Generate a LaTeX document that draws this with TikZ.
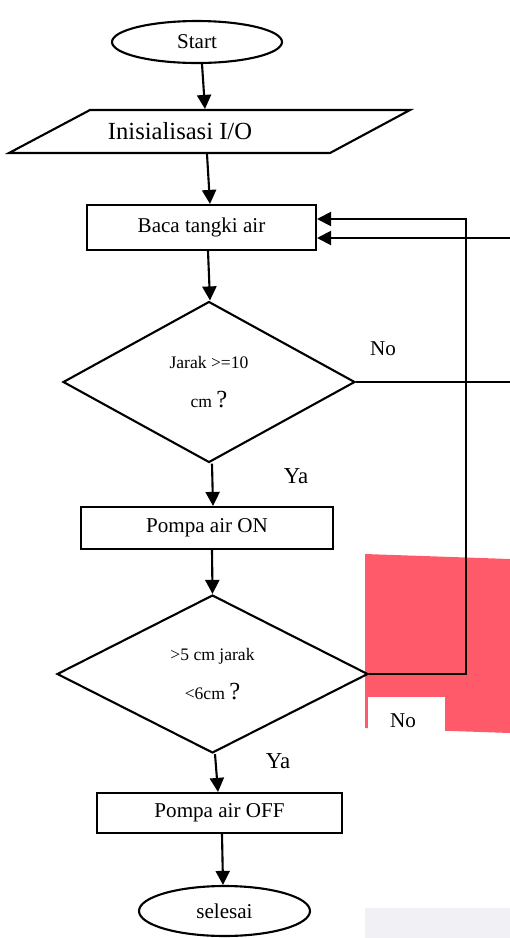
\documentclass[tikz,border=0pt]{standalone}
\usepackage{fontspec}
\setmainfont{Liberation Serif}
\usetikzlibrary{shapes.geometric,arrows.meta}

\definecolor{blokmerah}{RGB}{255,90,106}
\definecolor{blokabu}{RGB}{241,240,245}

\newcommand{\tanya}{{\fontsize{14}{14}\selectfont ?}}

\tikzset{
  flow/.style={-{Triangle[length=8pt,width=8pt]}},
  terminal/.style={draw,ellipse,inner sep=0pt,font=\fontsize{12}{14}\selectfont},
  data/.style={inner sep=0pt,font=\fontsize{14}{16}\selectfont},
  proses/.style={draw,rectangle,inner sep=0pt,font=\fontsize{12}{14}\selectfont},
  keputusan/.style={draw,diamond,aspect=1.8,inner sep=0pt,align=center,font=\fontsize{10}{12}\selectfont},
  jawab/.style={font=\fontsize{12}{14}\selectfont}
}

\begin{document}
\begin{tikzpicture}[x=0.02cm,y=-0.02cm,line width=1.2pt]
  \useasboundingbox (0,0) rectangle (510,938);

  \fill[blokmerah] (365,554) -- (510,559) -- (510,733) -- (365,728) -- cycle;
  \fill[white] (368,697) rectangle (445,732);
  \fill[blokabu] (365,908) rectangle (510,938);

  \draw (9,153) -- (90,110) -- (410,110) -- (330,153) -- cycle;

  \node[terminal,minimum width=3.4cm,minimum height=0.84cm] (start) at (197,42) {Start};
  \node[data,minimum height=0.86cm] (init) at (180,131.5) {Inisialisasi I/O};
  \node[proses,minimum width=4.58cm,minimum height=0.9cm] (baca) at (201.5,227.5) {Baca tangki air};
  \node[keputusan,minimum width=5.84cm,minimum height=3.22cm] (jarak) at (209,382) {Jarak >=10\\[10pt]cm \tanya};
  \node[proses,minimum width=5.04cm,minimum height=0.84cm] (on) at (207,528) {Pompa air ON};
  \node[keputusan,minimum width=6.22cm,minimum height=3.16cm] (batas) at (212.5,674) {>5 cm jarak\\[10pt]<6cm \tanya};
  \node[proses,minimum width=4.9cm,minimum height=0.8cm] (off) at (219.5,813) {Pompa air OFF};
  \node[terminal,minimum width=3.42cm,minimum height=1.0cm] (selesai) at (224.5,911) {selesai};

  \node[jawab] (no1) at (383,349) {No};
  \node[jawab,font=\fontsize{13}{15}\selectfont] (ya1) at (296,476) {Ya};
  \node[jawab,font=\fontsize{13}{15}\selectfont] (ya2) at (278,761) {Ya};
  \node[jawab] (no2) at (403,721) {No};

  \coordinate (balik) at (466,219);
  \coordinate (masuk) at (510,238);
  \coordinate (keluar) at (510,382);

  \draw[flow] ([xshift=0.1cm]start.south) -- ([xshift=0.5cm]init.north);
  \draw[flow] ([xshift=0.54cm]init.south) -- ([xshift=0.17cm]baca.north);
  \draw[flow] ([xshift=0.13cm]baca.south) -- ([xshift=0.02cm]jarak.north);
  \draw[flow] ([xshift=0.06cm]jarak.south) -- ([xshift=0.12cm]on.north);
  \draw[flow] ([xshift=0.1cm]on.south) -- (batas.north);
  \draw[flow] ([xshift=0.05cm]batas.south) -- ([xshift=-0.03cm]off.north);
  \draw[flow] ([xshift=0.05cm]off.south) -- ([xshift=-0.03cm]selesai.north);

  \draw (jarak.east) -- (keluar);
  \draw[flow] (batas.east) -| (balik) -- (balik -| baca.east);
  \draw[flow] (masuk) -- (masuk -| baca.east);
\end{tikzpicture}
\end{document}
